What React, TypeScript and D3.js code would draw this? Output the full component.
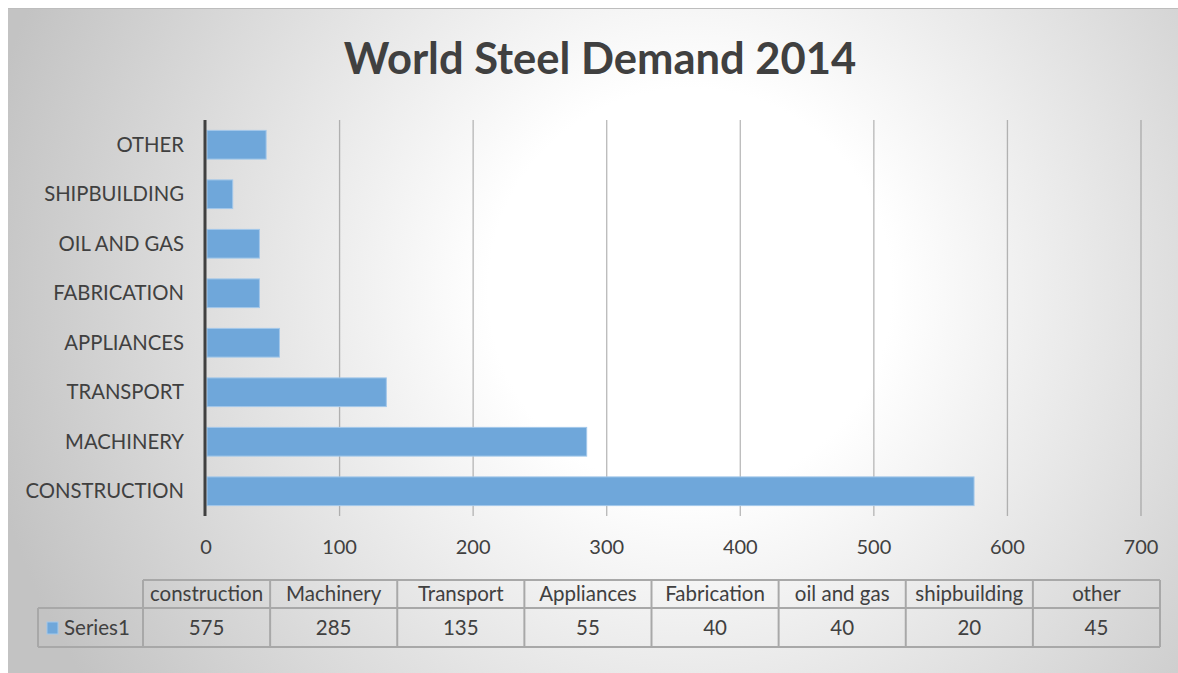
import React, { useEffect } from "react";
import * as d3 from "d3";

const title = "World Steel Demand 2014";
const axisCategories = ["CONSTRUCTION", "MACHINERY", "TRANSPORT", "APPLIANCES", "FABRICATION", "OIL AND GAS", "SHIPBUILDING", "OTHER"];
const tableCategories = ["construction", "Machinery", "Transport", "Appliances", "Fabrication", "oil and gas", "shipbuilding", "other"];
const values = [575, 285, 135, 55, 40, 40, 20, 45];
const xTicks = [0, 100, 200, 300, 400, 500, 600, 700];
const seriesName = "Series1";

const FONT = "Lato, 'Open Sans', sans-serif";

export default function App() {
  useEffect(() => {
    document.body.style.margin = "0";
    document.body.style.overflow = "hidden";
    document.documentElement.style.overflow = "hidden";
  }, []);
  const W = 1178, H = 673;
  const plotLeft = 206, plotRight = 1141, plotTop = 120, plotBottom = 516;
  const x = d3.scaleLinear().domain([0, 700]).range([plotLeft, plotRight]);
  const y = d3.scaleBand<string>().domain(axisCategories).range([plotBottom, plotTop]).paddingInner(0.42).paddingOuter(0.21);
  const tableLeft = 143, tableRight = 1160;
  const col = d3.scaleBand<string>().domain(tableCategories).range([tableLeft, tableRight]);
  const rowTop = 580, rowMid = 608, rowBottom = 647, legendLeft = 38;
  const tableStroke = "#a8a8a8";
  const textColor = "#404040";

  return (
    <svg width={W} height={H} style={{ display: "block", position: "absolute", left: 0, top: 0 }}>
      <defs>
        <radialGradient id="bg" gradientUnits="userSpaceOnUse" cx={690} cy={290} r={720}>
          <stop offset="0" stopColor="#ffffff" />
          <stop offset="0.28" stopColor="#ffffff" />
          <stop offset="1" stopColor="#c3c3c3" />
        </radialGradient>
      </defs>
      <rect x={0} y={0} width={W} height={H} fill="#ffffff" />
      <rect x={8} y={8} width={W - 8} height={H - 8} fill="url(#bg)" />
      <line x1={8} x2={W} y1={8.5} y2={8.5} stroke="#bdbdbd" strokeWidth={1} />
      <text x={600} y={74} textAnchor="middle" fontFamily={FONT} fontWeight={700} fontSize={43.5} fill={textColor}>{title}</text>
      {xTicks.slice(1).map((t) => (
        <line key={"g" + t} x1={x(t)} x2={x(t)} y1={plotTop} y2={plotBottom} stroke="#7f7f7f" strokeOpacity={0.55} strokeWidth={1.3} />
      ))}
      {axisCategories.map((c, i) => (
        <rect key={c} x={x(0) + 1} y={y(c)!} width={x(values[i]) - x(0) - 1} height={y.bandwidth()} fill="#6fa7da" stroke="#a3c8ea" strokeWidth={1} />
      ))}
      <line x1={x(0) - 1} x2={x(0) - 1} y1={plotTop} y2={plotBottom} stroke="#404040" strokeWidth={3} />
      {axisCategories.map((c) => (
        <text key={"l" + c} x={184} y={y(c)! + y.bandwidth() / 2} dy="0.35em" textAnchor="end" fontFamily={FONT} fontSize={20.3} fill={textColor}>{c}</text>
      ))}
      {xTicks.map((t) => (
        <text key={"t" + t} x={x(t)} y={547} dy="0.35em" textAnchor="middle" fontFamily={FONT} fontSize={20} fill={textColor}>{t}</text>
      ))}
      {/* data table */}
      <line x1={tableLeft} x2={tableRight} y1={rowTop} y2={rowTop} stroke={tableStroke} strokeWidth={2} />
      <line x1={legendLeft} x2={tableRight} y1={rowMid} y2={rowMid} stroke={tableStroke} strokeWidth={2} />
      <line x1={legendLeft} x2={tableRight} y1={rowBottom} y2={rowBottom} stroke={tableStroke} strokeWidth={2} />
      <line x1={legendLeft} x2={legendLeft} y1={rowMid} y2={rowBottom} stroke={tableStroke} strokeWidth={2} />
      {tableCategories.map((c) => (
        <line key={"v" + c} x1={col(c)!} x2={col(c)!} y1={rowTop} y2={rowBottom} stroke={tableStroke} strokeWidth={2} />
      ))}
      <line x1={tableRight} x2={tableRight} y1={rowTop} y2={rowBottom} stroke={tableStroke} strokeWidth={2} />
      {tableCategories.map((c, i) => (
        <g key={"c" + c}>
          <text x={col(c)! + col.bandwidth() / 2} y={(rowTop + rowMid) / 2} dy="0.35em" textAnchor="middle" fontFamily={FONT} fontSize={20.5} fill={textColor}>{c}</text>
          <text x={col(c)! + col.bandwidth() / 2} y={(rowMid + rowBottom) / 2} dy="0.35em" textAnchor="middle" fontFamily={FONT} fontSize={20.5} fill={textColor}>{values[i]}</text>
        </g>
      ))}
      <rect x={47} y={622} width={11} height={12} fill="#6fa7da" stroke="#a3c8ea" strokeWidth={1} />
      <text x={64} y={(rowMid + rowBottom) / 2} dy="0.35em" fontFamily={FONT} fontSize={20.5} fill={textColor}>{seriesName}</text>
    </svg>
  );
}
